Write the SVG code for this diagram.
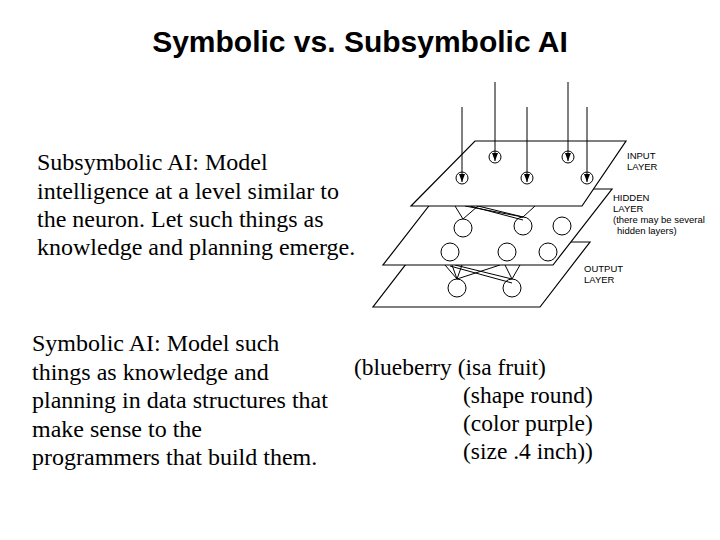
<svg xmlns="http://www.w3.org/2000/svg" width="720" height="540" viewBox="0 0 720 540">
<style>
.t{font-family:"Liberation Serif",serif;font-size:24px;fill:#000}
.l{font-family:"Liberation Serif",serif;font-size:23.5px;fill:#000}
.s{font-family:"Liberation Sans",sans-serif;font-size:9.5px;fill:#000}
.p{fill:#fff;stroke:#000;stroke-width:1.2}
.n{fill:#fff;stroke:#000;stroke-width:1}
.w{stroke:#000;stroke-width:1;fill:none}
</style>
<defs><marker id="a" markerWidth="8" markerHeight="6" refX="8" refY="3" orient="auto" markerUnits="userSpaceOnUse" viewBox="0 0 8 6"><path d="M0,0L8,3L0,6z" fill="#000"/></marker></defs>
<rect width="720" height="540" fill="#fff"/>
<text x="360" y="52" text-anchor="middle" font-family="Liberation Sans,sans-serif" font-weight="bold" font-size="30">Symbolic vs. Subsymbolic AI</text>
<g id="subsymbolic-text" class="t">
<text x="37" y="170">Subsymbolic AI: Model</text>
<text x="37" y="199">intelligence at a level similar to</text>
<text x="37" y="227">the neuron.  Let such things as</text>
<text x="37" y="255">knowledge and planning emerge.</text>
</g>
<g id="symbolic-text" class="t">
<text x="32" y="351">Symbolic AI: Model such</text>
<text x="32" y="380">things as knowledge and</text>
<text x="32" y="408">planning in data structures that</text>
<text x="32" y="437">make sense to the</text>
<text x="32" y="465">programmers that build them.</text>
</g>
<g id="lisp" class="l">
<text x="354" y="375">(blueberry (isa fruit)</text>
<text x="463" y="403">(shape round)</text>
<text x="463" y="431">(color purple)</text>
<text x="463" y="459">(size .4 inch))</text>
</g>
<g id="output-layer">
<polygon class="p" points="423,242 590,242 540,307 373,307"/>
<circle class="n" cx="457" cy="288" r="9"/><circle class="n" cx="512" cy="288" r="9"/>
</g>
<g id="output-links" class="w">
<path d="M457,279L445,265M457,279L452,265M457,279L462,265M457,279L500,265M512,279L455,265M512,279L505,265M512,279L520,265M450,266L512,283"/>
</g>
<g id="hidden-layer">
<polygon class="p" points="442,189 612,189 553,265 383,265"/>
<circle class="n" cx="463" cy="228" r="9"/><circle class="n" cx="523" cy="226" r="9"/><circle class="n" cx="562" cy="226" r="9"/>
<circle class="n" cx="450" cy="252" r="9"/><circle class="n" cx="507" cy="252" r="9"/><circle class="n" cx="548" cy="252" r="9"/>
</g>
<g id="hidden-links" class="w">
<path d="M463,219L455,206M463,219L478,206M523,217L478,206M523,217L465,206M523,217L535,206M523,220L470,206"/>
</g>
<g id="input-layer">
<polygon class="p" points="475,141 626,141 582,206 411,206"/>
<circle class="n" cx="495" cy="157" r="6"/><circle class="n" cx="568" cy="157" r="6"/>
<circle class="n" cx="462" cy="178" r="6"/><circle class="n" cx="527" cy="178" r="6"/><circle class="n" cx="587" cy="178" r="6"/>
</g>
<g id="inputs" class="w" marker-end="url(#a)">
<line x1="495" y1="82" x2="495" y2="161"/><line x1="568" y1="82" x2="568" y2="161"/>
<line x1="462" y1="107" x2="462" y2="182"/><line x1="527" y1="107" x2="527" y2="182"/><line x1="587" y1="107" x2="587" y2="182"/>
</g>
<g id="labels" class="s">
<text x="627" y="159">INPUT</text><text x="627" y="170">LAYER</text>
<text x="613" y="201">HIDDEN</text><text x="613" y="212">LAYER</text><text x="613" y="223">(there may be several</text><text x="617" y="234">hidden layers)</text>
<text x="584" y="272">OUTPUT</text><text x="584" y="283">LAYER</text>
</g>
</svg>
